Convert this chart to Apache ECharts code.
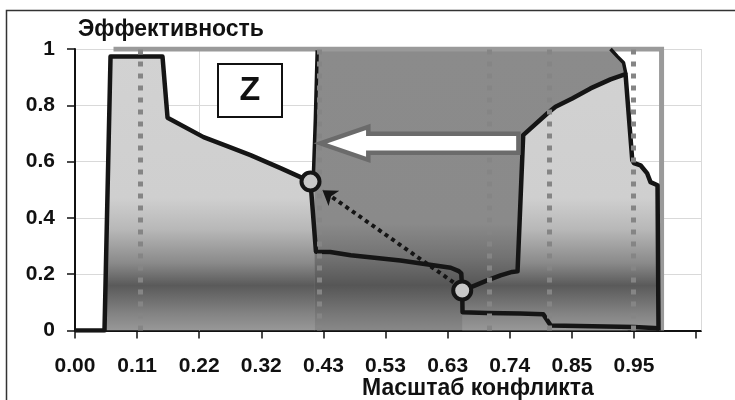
<!DOCTYPE html>
<html>
<head>
<meta charset="utf-8">
<script src="https://cdn.jsdelivr.net/npm/echarts@6/dist/echarts.min.js"></script>
<style>
html,body{margin:0;padding:0;background:#fff;}
#c{width:735px;height:400px;}
</style>
</head>
<body>
<div id="c"></div>
<script>
// ---- data (x in tick-index units along the category scale, y = efficiency) ----
var tickLabels = ['0.00','0.11','0.22','0.32','0.43','0.53','0.63','0.74','0.85','0.95'];
var yTitle = 'Эффективность';
var xTitle = 'Масштаб конфликта';
var boxLabel = 'Z';

// left "Z" curve (before), continues through the lower path
var curveBefore = [[0,0],[0.475,0],[0.572,0.973],[1.409,0.973],[1.49,0.756],[2.07,0.687],[2.45,0.655],[2.826,0.623],[3.309,0.577],[3.792,0.529],
  [3.88,0.28],[4.11,0.279],[4.44,0.267],[5.24,0.249],[6.05,0.223],[6.18,0.211],[6.22,0.203],[6.235,0.142],
  [6.24,0.065],[6.64,0.062],[7.17,0.06],[7.54,0.058],[7.66,0.018],[9.0,0.012],[9.4,0.008]];
// light area under left curve
var areaLeft = [[0.475,0],[0.572,0.973],[1.409,0.973],[1.49,0.756],[2.07,0.687],[2.45,0.655],[2.826,0.623],[3.309,0.577],[3.792,0.529],[3.85,0.56],[3.86,0]];
// vertical boundary rising from the first point
var riseLine = [[3.792,0.529],[3.84,0.56],[3.87,0.75],[3.9,0.995]];
// curve after the shift
var curveAfter = [[6.235,0.142],[6.377,0.154],[6.638,0.178],[6.852,0.196],[7.04,0.208],[7.126,0.21],[7.217,0.694],[7.604,0.771],[7.738,0.795],[8.006,0.824],[8.301,0.86],[8.623,0.892],[8.865,0.911],
  [8.973,0.605],[8.998,0.595],[9.106,0.587],[9.214,0.558],[9.267,0.527],[9.38,0.516],[9.396,0]];
// dark band (zone) boundary
var zoneArea = [[3.85,0],[3.85,0.56],[3.9,1],[8.623,1],[8.736,0.973],[8.833,0.951],[8.882,0.919],[8.9,0]];
var zoneEdge = [[8.623,1],[8.736,0.973],[8.833,0.951],[8.87,0.912]];
// gray frame line
var frameLine = [[0.62,1],[9.445,1],[9.445,0]];
// dotted gray verticals
var markerX = [1.055,3.945,6.675,7.625,8.995];
// states (circles)
var states = [[3.792,0.529],[6.235,0.142]];
// white arrow: [tailX, tipX, y]
var shiftArrow = [[7.14,3.95,0.665]];
// dotted black arrow: from, to
var moveArrow = [[6.095,0.171],[3.985,0.498]];
// visible vertical gridlines
var gridX = [2, 10.08];

var FONT = "'Liberation Sans', Arial, sans-serif";
var chart = echarts.init(document.getElementById('c'), null, {renderer:'canvas'});

function grad(stops){
  return {type:'linear', x:0, y:49, x2:0, y2:330.5, global:true,
    colorStops: stops.map(function(s){return {offset:s[0], color:s[1]};})};
}
var lightGrad = grad([[0,'#d2d2d2'],[0.53,'#cfcfcf'],[0.64,'#b8b8b8'],[0.76,'#8a8a8a'],[0.84,'#5a5a5a'],[0.94,'#838383'],[1,'#989898']]);
var darkGrad = grad([[0,'#8b8b8b'],[0.62,'#8a8a8a'],[0.74,'#727272'],[0.84,'#565656'],[0.94,'#777777'],[1,'#888888']]);

var option = {
  animation:false,
  backgroundColor:'#fff',
  title:[
    {text:yTitle, left:78, top:18, padding:0, textStyle:{fontFamily:FONT, fontSize:23, fontWeight:'bold', color:'#111'}},
    {text:xTitle, left:362, top:377, padding:0, textStyle:{fontFamily:FONT, fontSize:23, fontWeight:'bold', color:'#111'}}
  ],
  grid:{left:75, top:49, width:626, height:281.5, containLabel:false},
  xAxis:{type:'value', min:0, max:10.08, interval:1,
    axisLine:{show:true, onZero:false, lineStyle:{color:'#111', width:2}},
    axisTick:{show:true, length:8, customValues:[0,1,2,3,4,5,6,7,8,9,10], lineStyle:{color:'#111', width:1.5}},
    axisLabel:{customValues:[0,1,2,3,4,5,6,7,8,9], margin:25, fontFamily:FONT, fontSize:21, fontWeight:'bold', color:'#111',
      formatter:function(v){var i=Math.round(v); return tickLabels[i]!==undefined?tickLabels[i]:'';}},
    splitLine:{show:false}
  },
  yAxis:{type:'value', min:0, max:1, interval:0.2,
    axisLine:{show:true, lineStyle:{color:'#111', width:2}},
    axisTick:{show:true, length:8, lineStyle:{color:'#111', width:1.5}},
    axisLabel:{margin:20, fontFamily:FONT, fontSize:21, fontWeight:'bold', color:'#111'},
    splitLine:{show:true, lineStyle:{color:'#d9d9d9', width:1}}
  },
  graphic:[
    {type:'rect', z:100, shape:{x:6.5, y:10.5, width:800, height:500}, style:{fill:'none', stroke:'#333', lineWidth:1.5}, silent:true},
    {type:'rect', z:100, shape:{x:218, y:64, width:64, height:53}, style:{fill:'#fff', stroke:'#111', lineWidth:2}},
    {type:'text', z:101, x:250, y:91, style:{text:boxLabel, fontFamily:FONT, fontSize:34, fontWeight:'bold', fill:'#111', align:'center', verticalAlign:'middle'}}
  ],
  series:[
    {type:'line', z:1, data:[], markLine:{z:1, silent:true, symbol:'none', label:{show:false},
      lineStyle:{color:'#d9d9d9', width:1, type:'solid'}, data:gridX.map(function(x){return {xAxis:x};})}},
    {type:'line', z:2, data:zoneArea, symbol:'none', lineStyle:{width:0}, areaStyle:{color:darkGrad, opacity:1}},
    {type:'line', z:3, data:areaLeft, symbol:'none', lineStyle:{width:0}, areaStyle:{color:lightGrad, opacity:1}},
    {type:'line', z:3, data:curveAfter.concat([[9.396,0]]), symbol:'none', lineStyle:{width:0}, areaStyle:{color:lightGrad, opacity:1}},
    {type:'line', z:4, data:frameLine, symbol:'none', lineStyle:{color:'#9a9a9a', width:5, cap:'butt', join:'miter'}},
    {type:'line', z:5, data:curveBefore, symbol:'none', lineStyle:{color:'#151515', width:4.5, join:'round'}},
    {type:'line', z:5, data:riseLine, symbol:'none', lineStyle:{color:'#151515', width:3.5}},
    {type:'line', z:5, data:curveAfter, symbol:'none', lineStyle:{color:'#151515', width:4.5, join:'round'}},
    {type:'line', z:5, data:zoneEdge, symbol:'none', lineStyle:{color:'#151515', width:3.5}},
    {type:'line', z:6, data:[], markLine:{z:6, silent:true, symbol:'none', label:{show:false},
      lineStyle:{color:'#858585', width:5, type:[5,7], cap:'butt', opacity:1}, data:markerX.map(function(x){return {xAxis:x};})}},
    {type:'custom', z:7, data:shiftArrow, renderItem:function(params, api){
      var tail = api.coord([api.value(0), api.value(2)]);
      var tip = api.coord([api.value(1), api.value(2)]);
      var y = tip[1], hb = tip[0]+48;
      var pts = [[tip[0],y],[hb,y-16.5],[hb,y-9.5],[tail[0],y-9.5],[tail[0],y+9.5],[hb,y+9.5],[hb,y+16.5]];
      return {type:'polygon', shape:{points:pts}, style:{fill:'#fff', stroke:'#6b6b6b', lineWidth:4.5, lineJoin:'miter'}};
    }},
    {type:'lines', z:8, coordinateSystem:'cartesian2d', data:[{coords:moveArrow}], symbol:['none','arrow'], symbolSize:[0,14],
      lineStyle:{color:'#151515', width:4, type:[4,4], opacity:1, curveness:0}},
    {type:'scatter', z:9, data:states, symbol:'circle', symbolSize:18,
      itemStyle:{color:'#c8c8c8', borderColor:'#151515', borderWidth:4, opacity:1}}
  ]
};
chart.setOption(option);
</script>
</body>
</html>
